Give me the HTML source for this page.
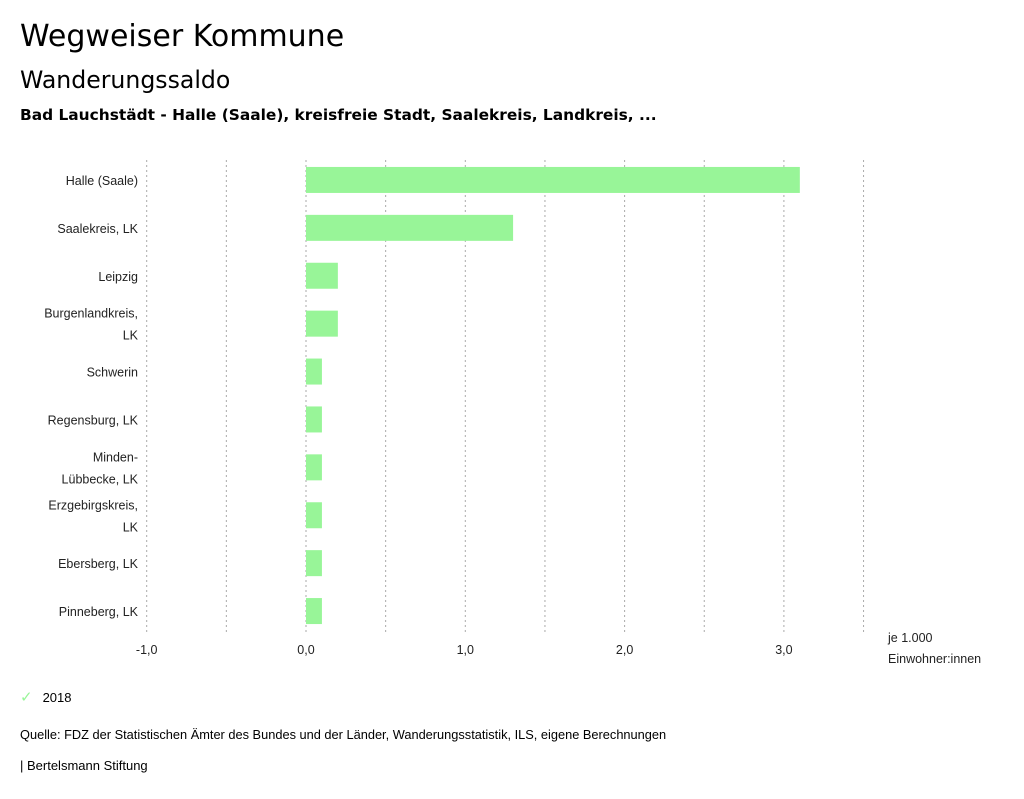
<!DOCTYPE html>
<html><head><meta charset="utf-8">
<style>
body{margin:0;background:#fff;font-family:"Liberation Sans",sans-serif;color:#000;}
#wrap{position:relative;width:1024px;height:799px;overflow:hidden;}
.t{position:absolute;white-space:nowrap;}
.h{font-family:"DejaVu Sans",sans-serif;}
</style></head>
<body>
<div id="wrap">
<div class="t h" style="left:20px;top:19px;font-size:30px;">Wegweiser Kommune</div>
<div class="t h" style="left:20px;top:66px;font-size:23.6px;">Wanderungssaldo</div>
<div class="t h" style="left:20px;top:106px;font-size:15.4px;font-weight:bold;">Bad Lauchstädt - Halle (Saale), kreisfreie Stadt, Saalekreis, Landkreis, ...</div>
<svg id="chart" width="1024" height="680" style="position:absolute;left:0;top:0"></svg>
<div class="t" style="left:20px;top:688px;font-size:13px;"><span style="color:#98f598;font-size:15px;margin-right:10px;">✓</span>2018</div>
<div class="t" style="left:20px;top:727px;font-size:12.8px;">Quelle: FDZ der Statistischen Ämter des Bundes und der Länder, Wanderungsstatistik, ILS, eigene Berechnungen</div>
<div class="t" style="left:20px;top:758px;font-size:13px;">| Bertelsmann Stiftung</div>
</div>
<script>
const categories=[["Halle (Saale)"],["Saalekreis, LK"],["Leipzig"],["Burgenlandkreis,","LK"],["Schwerin"],["Regensburg, LK"],["Minden-","Lübbecke, LK"],["Erzgebirgskreis,","LK"],["Ebersberg, LK"],["Pinneberg, LK"]];
const values=[3.1,1.3,0.2,0.2,0.1,0.1,0.1,0.1,0.1,0.1];
const tickValues=[-1,0,1,2,3];
const tickLabels=["-1,0","0,0","1,0","2,0","3,0"];
const gridValues=[-1,-0.5,0,0.5,1,1.5,2,2.5,3,3.5];

const NS="http://www.w3.org/2000/svg";
const svg=document.getElementById('chart');
const x=v=>306+(v-0)*159.3;
const top0=156,rowH=47.9,barH=26,plotBottom=635;
const y=i=>top0+i*rowH+rowH/2;
function mk(tag,attrs){const e=document.createElementNS(NS,tag);for(const k in attrs)e.setAttribute(k,attrs[k]);svg.appendChild(e);return e;}
gridValues.forEach(v=>{
  const l=mk('line',{x1:x(v),x2:x(v),y1:160,y2:plotBottom,stroke:'#aaa','stroke-width':1,'stroke-dasharray':'2,3'});
  
  
});
values.forEach((v,i)=>{
  const x0=Math.min(x(0),x(v)),w=Math.abs(x(v)-x(0));
  const r=mk('rect',{x:x0,y:y(i)-barH/2,width:w,height:barH,fill:'#98f598'});
  
  
  const lines=categories[i];
  lines.forEach((s,j)=>{
    const t=mk('text',{x:138,y:y(i)+5+(j-(lines.length-1)/2)*22,'text-anchor':'end','font-size':12.5,'font-family':'Liberation Sans, sans-serif',fill:'#222'});
    t.textContent=s;
    
    
  });
});
tickValues.forEach((v,i)=>{
  const t=mk('text',{x:x(v),y:654,'text-anchor':'middle','font-size':12.5,'font-family':'Liberation Sans, sans-serif',fill:'#222'});
  t.textContent=tickLabels[i];
  
  
});
[["je 1.000",642],["Einwohner:innen",663]].forEach(a=>{
  const t=mk('text',{x:888,y:a[1],'font-size':12.5,'font-family':'Liberation Sans, sans-serif',fill:'#222'});
  t.textContent=a[0];
  
  
});
</script>
</body></html>
